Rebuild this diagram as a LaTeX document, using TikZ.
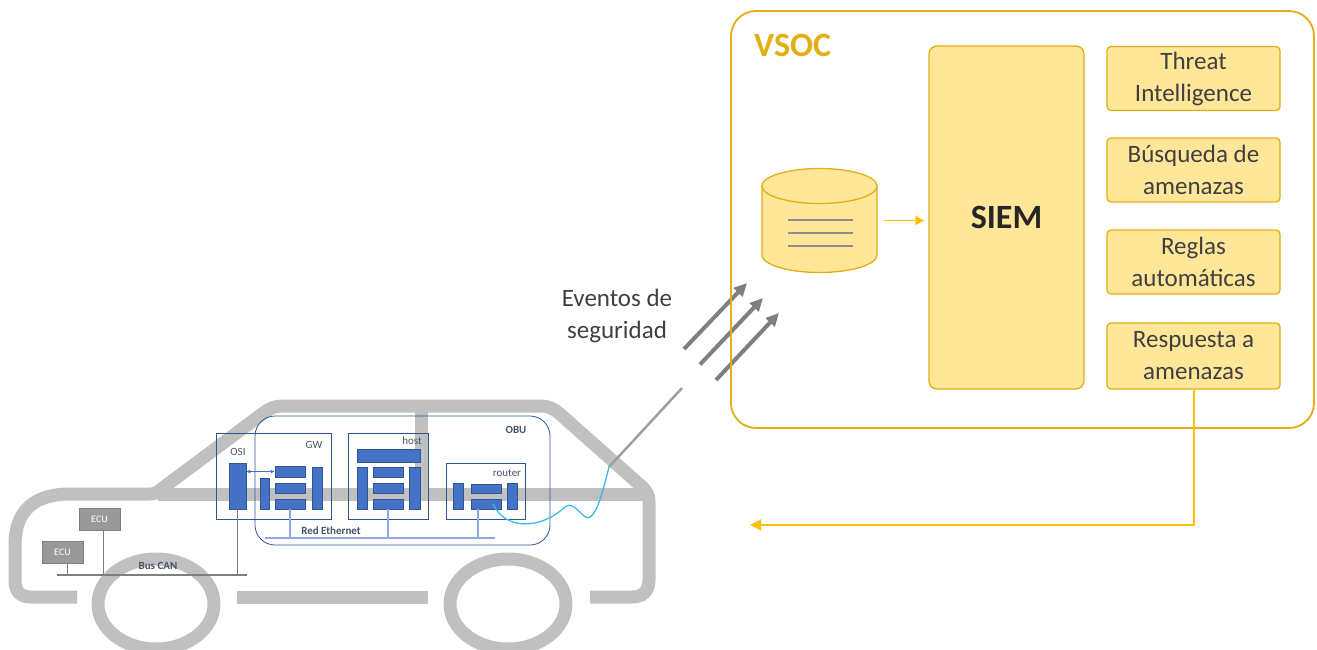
\documentclass[tikz,border=0pt]{standalone}
\usepackage{fontspec}
\setmainfont{Carlito}
\usetikzlibrary{arrows.meta,calc}
\definecolor{socline}{HTML}{E3AE14}
\definecolor{socfill}{HTML}{FFE699}
\definecolor{socarrow}{HTML}{FFC000}
\definecolor{textgray}{HTML}{404040}
\definecolor{cargray}{HTML}{C0C0C0}
\definecolor{evgray}{HTML}{7F7F7F}
\definecolor{obublue}{HTML}{2F5597}
\definecolor{blockblue}{HTML}{4472C4}
\definecolor{ethblue}{HTML}{8FAADC}
\definecolor{wireblue}{HTML}{3DB8F0}
\definecolor{labelblue}{HTML}{44546A}
\definecolor{ecugray}{HTML}{999999}
\tikzset{
 carline/.style={draw=cargray,line width=13pt,line join=round},
 frame/.style={draw=obublue,line width=.8pt,inner sep=0},
 blk/.style={draw=obublue,fill=blockblue,line width=.5pt,inner sep=0},
 tag/.style={inner sep=0,text=labelblue,font=\fontsize{11}{13}\selectfont},
 boldtag/.style={tag,font=\fontsize{11}{13}\selectfont\bfseries},
 ecu/.style={draw=gray,fill=ecugray,text=white,minimum width=41,minimum height=22,inner sep=0,font=\fontsize{10}{12}\selectfont},
 link/.style={draw=blockblue,line width=.9pt,{Latex[length=4pt,width=4pt]}-{Latex[length=4pt,width=4pt]}},
 ethernet/.style={draw=ethblue,line width=1.2pt},
 canbus/.style={draw=evgray,line width=1.8pt},
 wire/.style={draw=wireblue,line width=1.3pt},
 antenna/.style={draw=gray!75,line width=2.5pt},
 event/.style={draw=evgray,line width=4pt,-{Triangle[length=13pt,width=12pt]}},
 soc/.style={draw=socline,line width=1.8pt,rounded corners=25pt,minimum width=583,minimum height=417},
 siembox/.style={draw=socline,fill=socfill,line width=1.3pt,rounded corners=8pt,minimum width=155,minimum height=343,text=black!85,font=\fontsize{34}{40}\selectfont\bfseries},
 task/.style={draw=socline,fill=socfill,line width=1.3pt,rounded corners=4pt,minimum width=173,minimum height=64,inner sep=0,align=center,text=textgray,font=\fontsize{25}{32}\selectfont},
 feed/.style={draw=socarrow,line width=1.3pt,-{Triangle[length=9pt,width=9pt]}},
 reply/.style={draw=socarrow,line width=2pt,-{Triangle[length=11pt,width=11pt]}},
 dbline/.style={draw=gray!90,line width=2.5pt}
}
% one filled block of a unit: name, x1, y1, x2, y2
\newcommand{\unitblock}[5]{\node[blk,minimum width={#4-#2},minimum height={#5-#3}] (#1) at ({(#2+#4)/2},{(#3+#5)/2}) {};}
\begin{document}
\begin{tikzpicture}[x=1pt,y=-1pt]
\path[use as bounding box] (0,0) rectangle (1317,649);

% car body
\draw[carline] (77,597) -- (31,597) .. controls (20,597) and (15,591) .. (15,581) -- (15,545)
  .. controls (15,510) and (35,494) .. (70,494) -- (150,494) .. controls (154,494) and (157,493) .. (160,490)
  -- (262,414) .. controls (270,408) and (274,406) .. (285,406) -- (540,406)
  .. controls (548,406) and (553,408) .. (560,414) -- (640,485) .. controls (646,490) and (649,494) .. (649,502)
  -- (649,580) .. controls (649,591) and (643,597) .. (632,597) -- (590,597);
\draw[carline] (237,597) -- (428,597);
\draw[carline] (158,494) -- (649,494);
\draw[carline] (421,406) -- (421,494);
\draw[carline] (156,604) ellipse [x radius=58pt, y radius=45pt];
\draw[carline] (508,604) ellipse [x radius=58pt, y radius=45pt];

% antenna and wire
\coordinate (ant) at (609,467);
\coordinate (anttop) at (682,388);
\draw[antenna] (ant) -- (anttop);

% on-board unit
\node[frame,rounded corners=20pt,minimum width=295,minimum height=129] (obu) at (402.5,480.5) {};
\node[frame,minimum width=115,minimum height=86] (osigw) at (273.5,476) {};
\node[frame,minimum width=80,minimum height=86] (hostf) at (388,476) {};
\node[frame,minimum width=79,minimum height=56] (routf) at (485.5,491) {};
\node[boldtag] (obulbl) at (516,430) {OBU};
\node[tag] (osilbl) at (238,452) {OSI};
\node[tag] (gwlbl) at (314,445) {GW};
\node[tag] (hostlbl) at (412,441) {host};
\node[tag] (routlbl) at (507,473) {router};

\unitblock{osi}{229}{463}{246}{509}
\unitblock{gwa}{260}{478}{269}{509}
\unitblock{gwb}{275}{466}{305}{477}
\unitblock{gwc}{275}{483}{305}{493}
\unitblock{gwd}{275}{499}{305}{509}
\unitblock{gwe}{312}{467}{322}{509}
\unitblock{hosta}{357}{449}{420}{462}
\unitblock{hostb}{357}{467}{367}{509}
\unitblock{hostc}{373}{467}{403}{477}
\unitblock{hostd}{373}{483}{403}{493}
\unitblock{hoste}{373}{499}{403}{509}
\unitblock{hostf}{409}{467}{420}{509}
\unitblock{routa}{453}{483}{463}{509}
\unitblock{routb}{471}{484}{501}{493}
\unitblock{routc}{471}{499}{501}{509}
\unitblock{routd}{507}{483}{517}{509}

\draw[link] (osi.east |- gwb.west) -- (gwb.west);

% ethernet
\coordinate (ethL) at (265,538);
\coordinate (ethR) at (495,538);
\draw[ethernet] (ethL) -- (ethR);
\draw[ethernet] (gwd.south) -- (gwd.south |- ethL);
\draw[ethernet] (hoste.south) -- (hoste.south |- ethL);
\draw[ethernet] ([xshift=-8pt]routc.south) -- ([xshift=-8pt]routc.south |- ethL);
\node[boldtag] (ethlbl) at (331,531) {Red Ethernet};

\draw[wire] ([xshift=7pt]routc.center) .. controls (505,530) and (540,530) .. (565,507)
  .. controls (575,499) and (583,522) .. (590,517) .. controls (598,512) and (603,490) .. (ant);

% CAN bus
\node[ecu] (ecu1) at (99.5,519) {ECU};
\node[ecu] (ecu2) at (62.5,552.5) {ECU};
\coordinate (canL) at (57,575);
\coordinate (canR) at (247,575);
\draw[canbus] (canL) -- (canR);
\draw[canbus] (osi.south) -- (osi.south |- canR);
\draw[canbus] ([xshift=4pt]ecu1.south) -- ([xshift=4pt]ecu1.south |- canR);
\draw[canbus] ([xshift=5pt]ecu2.south) -- ([xshift=5pt]ecu2.south |- canR);
\node[boldtag] (canlbl) at (158,566) {Bus CAN};

% events sent out
\node[align=center,text=textgray,font=\fontsize{25}{32}\selectfont] (events) at (617,316) {Eventos de\\seguridad};
\foreach \k in {0,1,2} {
  \coordinate (evs\k) at ({684+16*\k},{349+15.5*\k});
  \coordinate (evt\k) at ({747+16*\k},{283+15*\k});
  \draw[event] (evs\k) -- (evt\k);
}

% security operations centre
\node[soc] (vsoc) at (1022.5,219.5) {};
\node[anchor=west,inner sep=0,text=socline,font=\fontsize{34}{40}\selectfont\bfseries] (vsoclbl) at (754,45) {VSOC};
\node[siembox] (siem) at (1006.5,217.5) {SIEM};
\node[task] (threat) at (1193.5,78.5) {Threat\\Intelligence};
\node[task] (hunt) at (1193.5,170) {Búsqueda de\\amenazas};
\node[task] (rules) at (1193.5,262) {Reglas\\automáticas};
\node[task,minimum height=66] (resp) at (1193.5,356) {Respuesta a\\amenazas};

% log store
\fill[socfill] (762,186) -- (762,255) arc[start angle=180,end angle=360,x radius=57.5pt,y radius=17.5pt] -- (877,186) -- cycle;
\draw[socline,line width=1.3pt] (762,186) -- (762,255) arc[start angle=180,end angle=360,x radius=57.5pt,y radius=17.5pt] -- (877,186);
\draw[socline,fill=socfill,line width=1.3pt] (819.5,186) ellipse [x radius=57.5pt, y radius=17.5pt];
\foreach \y in {220,233,246}
  \draw[dbline] (788,\y) -- (853,\y);
\node[inner sep=0,minimum width=115,minimum height=104] (db) at (819.5,220.5) {};
\draw[feed] ([xshift=7pt]db.east) -- ([xshift=-4pt]siem.west |- db.east);

\coordinate (back) at (750,525);
\draw[reply] (resp.south) |- (back);
\end{tikzpicture}
\end{document}
